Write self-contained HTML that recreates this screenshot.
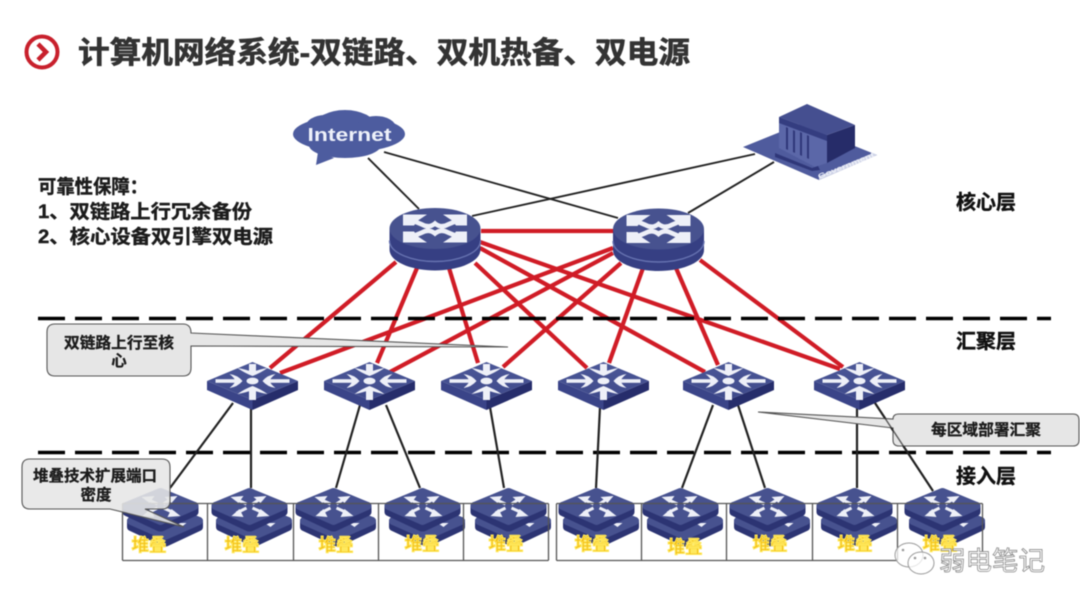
<!DOCTYPE html>
<html lang="zh"><head><meta charset="utf-8"><title>计算机网络系统</title>
<style>html,body{margin:0;padding:0;background:#fff;width:1080px;height:608px;overflow:hidden}
svg{display:block;filter:blur(.6px)}
text{font-family:"Liberation Sans","Noto Sans CJK SC",sans-serif;font-weight:700}</style></head><body>
<svg width="1080" height="608" viewBox="0 0 1080 608" xmlns="http://www.w3.org/2000/svg">
<defs>
<linearGradient id="tp" x1="0" y1="0" x2="0" y2="1"><stop offset="0" stop-color="#4b5797"/><stop offset="1" stop-color="#3f4a8b"/></linearGradient>
<g id="sw">
 <polygon points="-45.5,0 0,19 0,29 -45.5,9" fill="#3a4488"/>
 <polygon points="45.5,0 0,19 0,29 45.5,9" fill="#262d6b"/>
 <polygon points="-45.5,0 0,-19 45.5,0 0,19" fill="url(#tp)"/>
 <g fill="#eef0f8" stroke="none">
  <ellipse cx="0" cy="0" rx="6" ry="3.4"/>
  <rect x="-37" y="-1.8" width="23" height="3.6"/><path d="M-10,0 Q-15,-6 -23,-7 Q-18,-3 -17,0 Q-18,3 -23,7 Q-15,6 -10,0Z"/>
  <rect x="14" y="-1.8" width="23" height="3.6"/><path d="M10,0 Q15,-6 23,-7 Q18,-3 17,0 Q18,3 23,7 Q15,6 10,0Z"/>
  <rect x="-3.5" y="-17" width="7" height="9"/><path d="M0,-5 Q-8,-8 -15,-13 Q-8,-12 0,-9 Q8,-12 15,-13 Q8,-8 0,-5Z"/>
  <rect x="-3.5" y="8" width="7" height="11"/><path d="M0,5 Q-8,8 -15,13 Q-8,12 0,9 Q8,12 15,13 Q8,8 0,5Z"/>
 </g>
</g>
<g id="rt">
 <path d="M-45.5,0 V21 C-45.5,34 -22,42 0,42 C22,42 45.5,34 45.5,21 V0 Z" fill="#363f83"/>
 <path d="M-45.5,12 C-45.5,25 -22,33 0,33 C22,33 45.5,25 45.5,12" fill="none" stroke="#6672b0" stroke-width="1.4"/>
 <ellipse cx="0" cy="0" rx="45.5" ry="20.5" fill="#47528f"/>
 <g fill="none" stroke="#eef0f8" stroke-width="4.6">
  <path d="M-25,-9 L-13,-4 Q-6,0 0,-5 Q6,0 13,-4 L25,-9"/>
  <path d="M-25,9 L-13,4 Q-6,0 0,5 Q6,0 13,4 L25,9"/>
 </g>
 <g fill="#eef0f8">
  <polygon points="-32,-14 -8,-14 -17,-8 -21,-3 -32,-3"/>
  <polygon points="32,-14 8,-14 17,-8 21,-3 32,-3"/>
  <polygon points="-32,14 -8,14 -17,8 -21,3 -32,3"/>
  <polygon points="32,14 8,14 17,8 21,3 32,3"/>
 </g>
</g>
<g id="unit">
 <path d="M-34,0 V6 L-2,21 Q0,22 2,21 L34,6 V0 Z" fill="#2c3473" stroke="#2c3473" stroke-width="8" stroke-linejoin="round"/>
 <polygon points="-34,0 0,-14 34,0 0,15" fill="#47528f" stroke="#47528f" stroke-width="8" stroke-linejoin="round"/>
</g>
<g id="st">
 <use href="#unit" x="4.5" y="15"/>
 <polygon points="15,17 26,17 21,21" fill="#eef0f8"/>
 <use href="#unit"/>
 <g fill="none" stroke="#eef0f8" stroke-width="3">
  <path d="M-3,-2 L-14,-7 M3,-2 L12,-8 M-3,2 L-13,7 M3,2 L14,7"/>
 </g>
 <g fill="#eef0f8">
  <polygon points="-19,-9 -6,-10 -11,-3"/>
  <polygon points="17,-10 4,-9 11,-3"/>
  <polygon points="-18,10 -6,11 -10,3"/>
  <polygon points="20,10 7,11 11,3"/>
 </g>
</g>
</defs>

<!-- title -->
<circle cx="42" cy="52" r="15.5" fill="#fff" stroke="#c8202c" stroke-width="4"/>
<path d="M38,44 L46,52 L38,60" fill="none" stroke="#c8202c" stroke-width="4.5"/>
<text x="78" y="63" font-size="30" fill="#333" stroke="#333" stroke-width=".6" textLength="612" lengthAdjust="spacingAndGlyphs">计算机网络系统-双链路、双机热备、双电源</text>

<!-- left notes -->
<g font-size="19" fill="#1c1c1c" stroke="#1c1c1c" stroke-width=".4">
<text x="38" y="193" textLength="110" lengthAdjust="spacingAndGlyphs">可靠性保障：</text>
<text x="38" y="218" textLength="214" lengthAdjust="spacingAndGlyphs">1、双链路上行冗余备份</text>
<text x="38" y="243" textLength="235" lengthAdjust="spacingAndGlyphs">2、核心设备双引擎双电源</text>
</g>
<g font-size="20" fill="#111" stroke="#111" stroke-width=".4">
<text x="956" y="209" textLength="60" lengthAdjust="spacingAndGlyphs">核心层</text>
<text x="956" y="348" textLength="60" lengthAdjust="spacingAndGlyphs">汇聚层</text>
<text x="956" y="483" textLength="60" lengthAdjust="spacingAndGlyphs">接入层</text>
</g>

<!-- black WAN links -->
<g stroke="#222" stroke-width="1.9" fill="none">
<path d="M368,158 L419,209"/>
<path d="M384,152 L618,218"/>
<path d="M774,162 L688,213"/>
<path d="M755,154 L472,216"/>
</g>

<!-- red links -->
<g stroke="#d01c26" stroke-width="4.2" fill="none">
<path d="M481,231 H613"/>
<path d="M396,262 L270,368"/><path d="M417,268 L377,363"/><path d="M449,268 L478,363"/>
<path d="M475,263 L587,368"/><path d="M480,248 L705,372"/><path d="M480,242 L840,369"/>
<path d="M613,248 L280,373"/><path d="M613,253 L390,372"/><path d="M621,263 L503,367"/>
<path d="M643,268 L609,363"/><path d="M676,268 L718,365"/><path d="M700,260 L843,367"/>
</g>

<!-- dashed lines -->
<g stroke="#000" stroke-width="3.6" stroke-dasharray="27 10" fill="none">
<path d="M38,318.5 H1051"/>
<path d="M38,452.5 H1051"/>
</g>

<!-- black access links -->
<g stroke="#222" stroke-width="2.2" fill="none">
<path d="M233,403 L170,488"/><path d="M251,405 V488"/>
<path d="M360,405 L336,488"/><path d="M386,405 L420,488"/>
<path d="M490,407 L504,488"/><path d="M600,407 L596,488"/>
<path d="M713,405 L682,488"/><path d="M738,405 L765,488"/>
<path d="M857,407 V488"/><path d="M875,403 L933,491"/>
</g>

<!-- cloud -->
<g fill="#4d5c9f">
<ellipse cx="349" cy="134" rx="56" ry="18"/>
<ellipse cx="345" cy="126" rx="30" ry="16"/>
<ellipse cx="325" cy="128" rx="20" ry="13"/>
<ellipse cx="376" cy="128" rx="20" ry="12"/>
<ellipse cx="345" cy="145" rx="36" ry="13"/>
<polygon points="318,152 334,158 316,165"/>
</g>
<text x="307.5" y="141" font-size="18.5" fill="#eef1fa" textLength="84" lengthAdjust="spacingAndGlyphs">Internet</text>

<!-- building -->
<polygon points="743,147 800,124 877,155 819,180" fill="#4f5b9d"/>
<polygon points="877,155 819,180 819,176 873,153" fill="#cfd4e8"/>
<polygon points="779,117 827,135 827,163 815,167 779,148" fill="#5b67a8"/>
<polygon points="779,117 827,135 827,141 779,123" fill="#343d80"/>
<g fill="#2f3779">
<polygon points="786,127 788,128 788,150 786,149"/><polygon points="793,130 795,131 795,153 793,152"/>
<polygon points="800,132 802,133 802,156 800,155"/><polygon points="807,135 809,136 809,159 807,158"/>
<polygon points="775,153 812,168 818,166 820,170 812,171 775,157"/>
</g>
<polygon points="827,135 855,125 855,148 827,163" fill="#262c69"/>
<polygon points="779,117 807,104 855,125 827,135" fill="#454f90"/>
<text transform="translate(819,179) rotate(-22)" font-size="7" fill="#eef0f8" textLength="60" lengthAdjust="spacingAndGlyphs">Government</text>

<!-- core routers -->
<use href="#rt" x="435" y="228.5"/>
<use href="#rt" x="658.5" y="229"/>

<!-- aggregation switches -->
<use href="#sw" x="252.5" y="381"/><use href="#sw" x="369.5" y="381"/>
<use href="#sw" x="486.5" y="381"/><use href="#sw" x="603.5" y="381"/>
<use href="#sw" x="728.5" y="381"/><use href="#sw" x="859.5" y="381"/>

<!-- stacks -->
<use href="#st" x="160.5" y="506"/><use href="#st" x="249.5" y="506"/>
<use href="#st" x="333.5" y="506"/><use href="#st" x="422.5" y="506"/>
<use href="#st" x="508.5" y="506"/><use href="#st" x="596.5" y="506"/>
<use href="#st" x="680.5" y="506"/><use href="#st" x="767.5" y="506"/>
<use href="#st" x="854.5" y="506"/><use href="#st" x="942.5" y="506"/>

<!-- stack tables -->
<g fill="none" stroke="#555" stroke-width="1.3">
<path d="M122.5,503.5 H548.5 M122.5,560.5 H548.5 M122.5,503.5 V560.5 M207.5,503.5 V560.5 M293.5,503.5 V560.5 M378.5,503.5 V560.5 M463.5,503.5 V560.5 M548.5,503.5 V560.5" />
<path d="M556.5,503.5 H982.5 M556.5,560.5 H897.5 M556.5,503.5 V560.5 M641.5,503.5 V560.5 M726.5,503.5 V560.5 M812.5,503.5 V560.5 M897.5,503.5 V560.5 M982.5,503.5 V552" />
</g>

<!-- yellow labels -->
<g font-size="17.5" fill="#f2bd14" stroke="#ffe95e" stroke-width="1" text-anchor="middle">
<text x="149" y="551">堆叠</text><text x="242" y="551">堆叠</text>
<text x="336" y="551">堆叠</text><text x="422" y="550">堆叠</text>
<text x="506" y="550">堆叠</text><text x="592" y="550">堆叠</text>
<text x="685" y="553">堆叠</text><text x="770" y="550">堆叠</text>
<text x="855" y="550">堆叠</text><text x="940" y="550">堆叠</text>
</g>

<!-- callouts -->
<path d="M55,324 H183 Q191,324 191,333 L508,347 L191,346 V368 Q191,376 183,376 H55 Q47,376 47,368 V332 Q47,324 55,324 Z" fill="#e6e6e6" stroke="#555" stroke-width="1.1"/>
<g font-size="15.5" fill="#1c1c1c" stroke="#1c1c1c" stroke-width=".3" text-anchor="middle">
<text x="119" y="348" textLength="110" lengthAdjust="spacingAndGlyphs">双链路上行至核</text>
<text x="119" y="366">心</text>
</g>

<path d="M899,414 H1073 Q1079,414 1079,420 V440 Q1079,446 1073,446 H899 Q893,446 893,440 V428 L758,412 L893,419 Q893,414 899,414 Z" fill="#e6e6e6" stroke="#555" stroke-width="1.1"/>
<path d="M875,403 L933,491" stroke="#222" stroke-width="1.4" opacity=".7"/>
<text x="986" y="435" font-size="15.5" fill="#1c1c1c" stroke="#1c1c1c" stroke-width=".3" text-anchor="middle" textLength="110" lengthAdjust="spacingAndGlyphs">每区域部署汇聚</text>

<path d="M30,459 H162 Q170,459 170,467 V501 Q170,509 162,509 H145 L184,527 L110,509 H30 Q22,509 22,501 V467 Q22,459 30,459 Z" fill="#e6e6e6" fill-opacity=".88" stroke="#555" stroke-width="1.1"/>
<g font-size="15.5" fill="#1c1c1c" stroke="#1c1c1c" stroke-width=".3" text-anchor="middle">
<text x="95" y="481" textLength="124" lengthAdjust="spacingAndGlyphs">堆叠技术扩展端口</text>
<text x="96" y="500">密度</text>
</g>

<!-- watermark -->
<g fill="#fff" fill-opacity=".75" stroke="#9a9a9a" stroke-width="1">
<ellipse cx="909" cy="555" rx="14" ry="12"/>
<ellipse cx="921" cy="563" rx="13" ry="11"/>
</g>
<g fill="#999"><circle cx="915" cy="558" r="1.3"/><circle cx="925" cy="558" r="1.3"/><circle cx="903" cy="550" r="1.3"/></g>
<text x="939" y="570" font-size="26" fill="#fff" stroke="#8a8a8a" stroke-width=".8" style="font-weight:400" textLength="106" lengthAdjust="spacingAndGlyphs">弱电笔记</text>
</svg>
</body></html>
